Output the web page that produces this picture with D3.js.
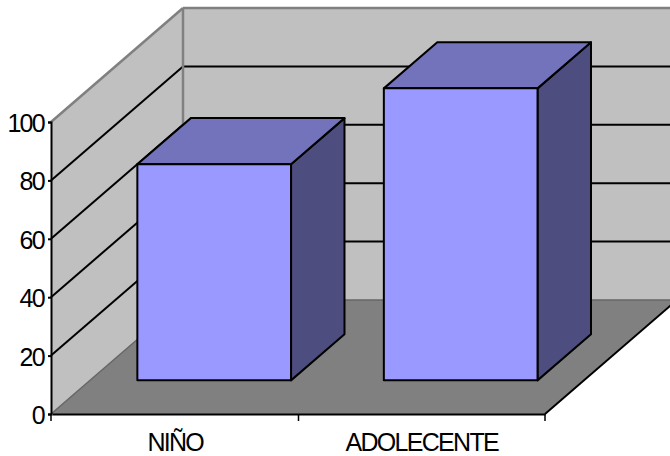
<!DOCTYPE html>
<html><head><meta charset="utf-8">
<script src="https://cdn.jsdelivr.net/npm/d3@7"></script>
<style>html,body{margin:0;padding:0;background:#fff}svg{display:block}text{font-family:"Liberation Sans",Arial,sans-serif;font-size:25px;letter-spacing:-1.7px;fill:#000}</style>
</head><body><svg width="670" height="456"></svg>
<script>
const categories = ["NIÑO", "ADOLECENTE"];
const values = [74, 100];
const yTicks = [0, 20, 40, 60, 80, 100];
const colors = {wall:"#c0c0c0", floor:"#808080", front:"#9999ff", top:"#7373bb", side:"#4d4d7f"};

const svg = d3.select("svg").attr("viewBox","0 0 670 456");
const x = d3.scaleBand().domain(categories).range([52,545]).paddingInner(0).paddingOuter(0);
const y = d3.scaleLinear().domain([0,100]).range([414,122]);
const dx = d3.scaleLinear().domain([0,1]).range([0,132]);
const dy = d3.scaleLinear().domain([0,1]).range([0,-114]);
const P = (px, v, d) => [px + dx(d), y(v) + dy(d)];
const line = d3.line();
const poly = (pts, fill, stroke, sw) => svg.append("path").attr("d", line(pts)+"Z")
  .attr("fill",fill).attr("stroke",stroke||"none").attr("stroke-width",sw||0).attr("stroke-linejoin","round");
const seg = (a,b,stroke,sw) => svg.append("path").attr("d", line([a,b])).attr("fill","none").attr("stroke",stroke).attr("stroke-width",sw);
const x0=51, x1=545;

// walls
poly([P(x0,0,0),P(x0,100,0),P(x0,100,1),P(x0,0,1)], colors.wall);
poly([P(x0,0,1),P(x0,100,1),P(x1,100,1),P(x1,0,1)], colors.wall);
// floor
poly([P(x0,0,0),P(x1,0,0),P(x1,0,1),P(x0,0,1)], colors.floor);
// gridlines
yTicks.filter(t=>t>0&&t<100).forEach(t=>{
  seg(P(x0,t,0),P(x0,t,1),"#000",2);
  seg(P(x0,t,1),P(x1,t,1),"#000",2);
});
// wall edges
seg(P(x0,100,0),P(x0,100,1),colors.floor,2.5);
seg(P(x0,100,1),P(x1,100,1),colors.floor,2.5);
seg(P(x0,100,1),P(x0,0,1),colors.floor,2.5);
seg(P(x0,0,0),P(x0,0,1),"#666",1.5);
seg(P(x0,0,1),P(x1,0,1),"#666",1.5);
seg(P(x1,0,0),P(x1,0,1),"#000",2);

// bars
const barW = x.bandwidth()*0.6235, d0=0.295, d1=0.7;
categories.forEach((c,i)=>{
  const l = x(c)+(x.bandwidth()-barW)/2, r = l+barW, v = values[i];
  const S = "#000", W = 2;
  poly([P(r,0,d0),P(r,v,d0),P(r,v,d1),P(r,0,d1)], colors.side, S, W);
  poly([P(l,v,d0),P(r,v,d0),P(r,v,d1),P(l,v,d1)], colors.top, S, W);
  poly([P(l,0,d0),P(r,0,d0),P(r,v,d0),P(l,v,d0)], colors.front, S, W);
});

// axes
const yAxis = svg.append("g").attr("transform",`translate(${x0},0)`)
  .call(d3.axisLeft(y).tickValues(yTicks).tickSize(3).tickPadding(4));
yAxis.selectAll(".tick text").attr("dy","0.38em");
const xAxis = svg.append("g").attr("transform",`translate(0,${y(0)})`)
  .call(d3.axisBottom(x).tickSize(0).tickPadding(19));
xAxis.selectAll(".tick text").attr("dy","0.71em");
[x0,...categories.map(c=>x(c)+x.bandwidth())].forEach(t=>seg([t,y(0)],[t,y(0)+7],"#000",1.5));
[yAxis,xAxis].forEach(g=>{
  g.attr("font-family",null).attr("font-size",null);
  g.selectAll(".domain").attr("stroke","#000").attr("stroke-width",2);
  g.selectAll(".tick line").attr("stroke","#000").attr("stroke-width",2);
  g.selectAll("text").attr("fill","#000");
});
</script></body></html>
